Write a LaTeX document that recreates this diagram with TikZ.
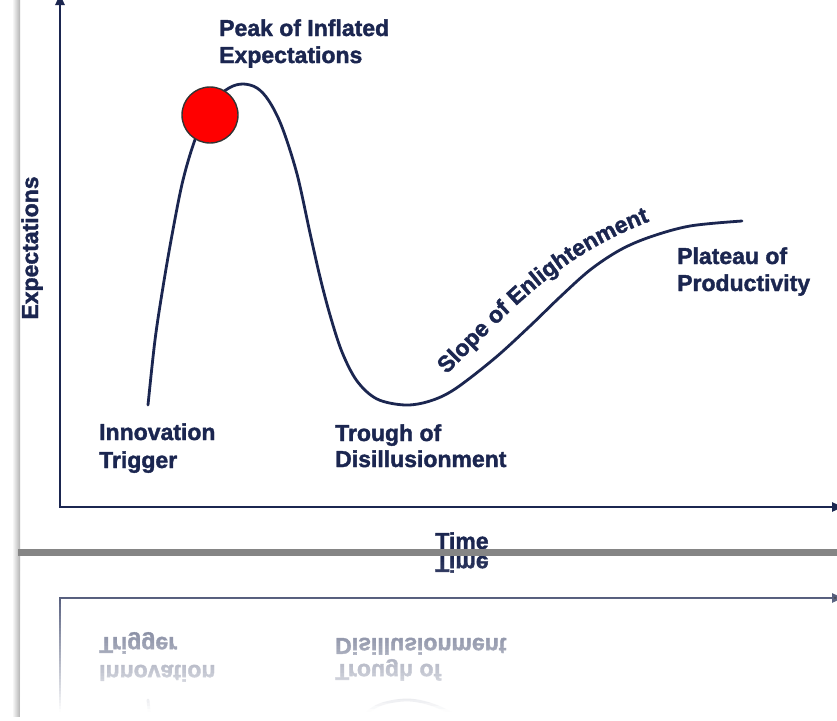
\documentclass[tikz,border=0pt]{standalone}
\usepackage{fontspec}
\setmainfont{Liberation Sans}[BoldFont={Liberation Sans Bold}]
\newfontfamily\hcbold{Liberation Sans Bold}[FakeBold=1.6]
\usetikzlibrary{arrows.meta,decorations.text}
\definecolor{hcnavy}{RGB}{27,38,80}
\definecolor{barGrey}{RGB}{133,133,133}
\newcommand{\lblfont}{\hcbold\fontsize{23}{28}\selectfont}
\tikzset{
  lbl/.style={anchor=base west, inner sep=0pt, text=hcnavy, font=\lblfont},
  axislbl/.style={anchor=base, inner sep=0pt, text=hcnavy, font=\lblfont},
  axisline/.style={draw=hcnavy, line width=2.4pt, line join=miter,
    {Triangle[length=11pt,width=9pt]}-{Triangle[length=11pt,width=9pt]}},
  hypecurve/.style={draw=hcnavy, line width=2.8pt, line cap=round},
  reddot/.style={circle, minimum size=56pt, inner sep=0pt, fill=red, draw=black!80, line width=1.4pt},
}
\newcommand{\hypechart}{%
  \coordinate (ytop) at (60,-6);
  \coordinate (origin) at (60,507);
  \coordinate (xend) at (843,507);
  \draw[axisline] (ytop) -- (origin) -- (xend);
  \draw[hypecurve] plot[smooth, tension=0.55] coordinates {
    (148,405) (155,340) (163,287) (172,235) (183,180) (196,137) (212,103)
    (229,88) (243,84) (257,88) (269,101) (282,127) (297,174) (310,233)
    (320,277) (330,315) (342,352) (357,381) (377,399) (405,405) (430,401)
    (455,389) (495,358) (530,326) (560,297) (590,270) (620,250) (650,237)
    (690,226) (742,221)};
  \node[reddot] (dot) at (210,115) {};
  \node[lbl] (peak1) at (219,36) {Peak of Inflated};
  \node[lbl] (peak2) at (219,63) {Expectations};
  \node[lbl] (innov1) at (99,440) {Innovation};
  \node[lbl] (innov2) at (99,468) {Trigger};
  \node[lbl] (trough1) at (335,441) {Trough of};
  \node[lbl] (trough2) at (335,467) {Disillusionment};
  \node[lbl] (plat1) at (677,264) {Plateau of};
  \node[lbl] (plat2) at (677,291) {Productivity};
  \node[axislbl] (time) at (462,549) {Time};
  \node[axislbl, rotate=90] (expect) at (38,248) {Expectations};
  \path[decorate, decoration={text along path, text align=center,
      text color=hcnavy, text={|\lblfont|Slope of Enlightenment}}]
    (444,377) to[out=45, in=201] (653,220);
}
\begin{document}
\begin{tikzpicture}[x=1pt, y=-1pt]
  \useasboundingbox (0,0) rectangle (837,720);
  \fill[white] (0,0) rectangle (837,720);
  \shade[left color=white, right color=black!30] (12,0) rectangle (20,716);
  \hypechart
  \begin{scope}
    \clip (18,556) rectangle (837,720);
    \begin{scope}[yshift=-1105pt, yscale=-1, transform shape]
      \hypechart
    \end{scope}
  \end{scope}
  \foreach \i [evaluate=\i as \op using {min(1,(\i+0.5)/52)}] in {0,...,54} {
    \fill[white, fill opacity=\op] (20,{556+3*\i}) rectangle (837,{559+3*\i});
  }
  \fill[barGrey] (18,549) rectangle (837,556);
\end{tikzpicture}
\end{document}
